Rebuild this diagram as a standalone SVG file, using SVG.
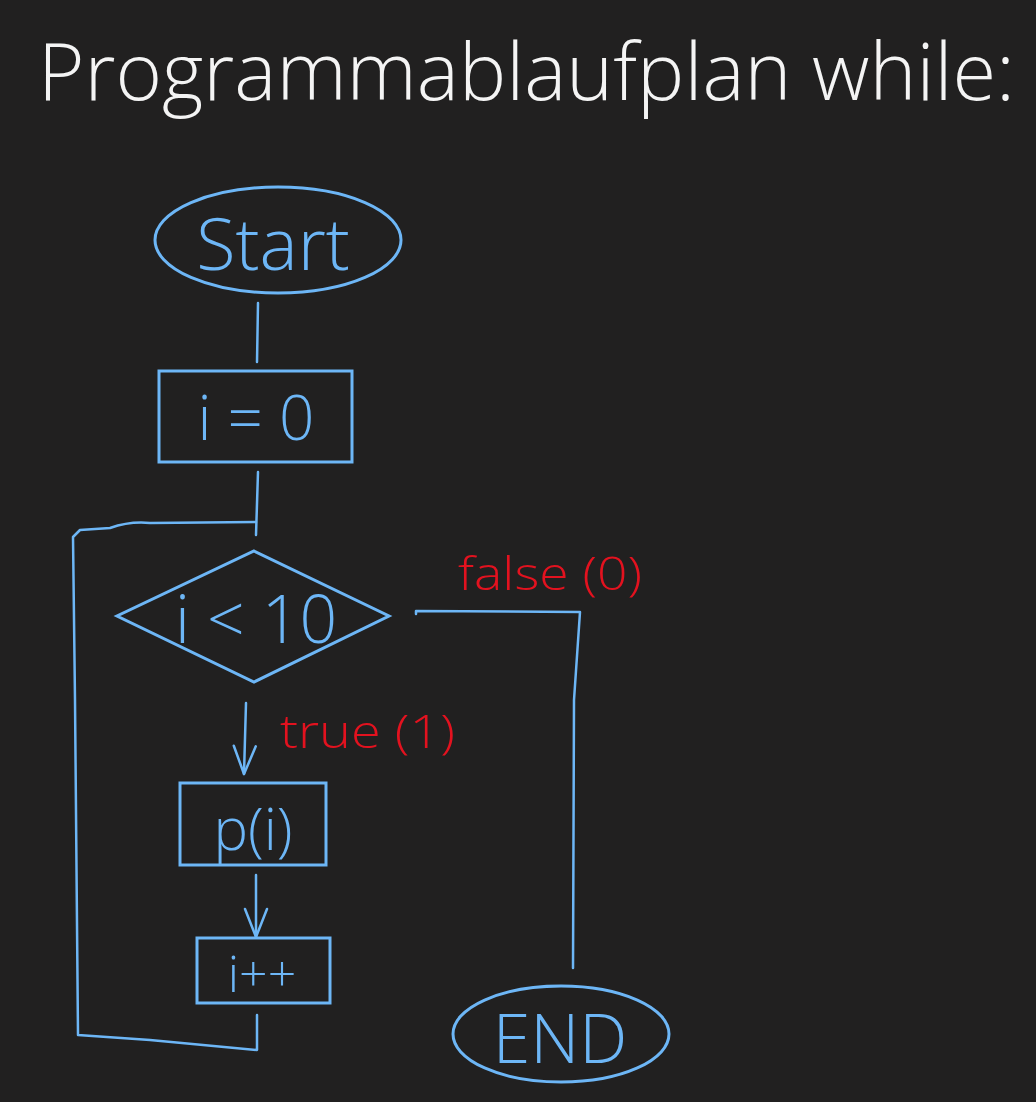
<svg xmlns="http://www.w3.org/2000/svg" width="1036" height="1102" viewBox="0 0 1036 1102">
<defs>
<style>
.bg{fill:#212020}
.shape{fill:none;stroke:#6db6f6;stroke-width:3;stroke-linejoin:miter}
.conn{fill:none;stroke:#6db6f6;stroke-width:2.5;stroke-linecap:round;stroke-linejoin:round}
.lbl{font-family:"Open Sans","Liberation Sans",sans-serif;font-weight:300;fill:#6db6f6;text-anchor:middle}
.red{font-family:"Open Sans","Liberation Sans",sans-serif;font-weight:300;fill:#e3121f}
.title{font-family:"Open Sans","Liberation Sans",sans-serif;font-weight:300;fill:#f4f4f4}
</style>
<marker id="arr" viewBox="0 0 32 28" refX="30" refY="14" markerWidth="32" markerHeight="28" markerUnits="userSpaceOnUse" orient="auto">
<path d="M2 3 L30 14 L2 25" fill="none" stroke="#6db6f6" stroke-width="2.5" stroke-linecap="round" stroke-linejoin="round"/>
</marker>
</defs>
<rect class="bg" x="0" y="0" width="1036" height="1102"/>
<text class="title" x="38" y="100" font-size="80" textLength="977" lengthAdjust="spacingAndGlyphs">Programmablaufplan while:</text>

<g id="connectors">
<path class="conn" d="M258 303 L257 362"/>
<path class="conn" d="M258 472 L256 535"/>
<path class="conn" d="M256 522 L150 523 Q130 521 110 528 L80 530 L73 537 L75 700 L78 1035 L150 1040 L257 1050 L257 1015"/>
<path class="conn" d="M416 614 L416 611 L580 612 L574 700 L573 968"/>
<path class="conn" d="M246 703 L244 774" marker-end="url(#arr)"/>
<path class="conn" d="M256 875 L256 937" marker-end="url(#arr)"/>
</g>

<g id="start">
<ellipse class="shape" cx="278" cy="240" rx="123" ry="53"/>
<text class="lbl" x="273" y="270" font-size="72">Start</text>
</g>
<g id="init">
<rect class="shape" x="159" y="371" width="193" height="91"/>
<text class="lbl" x="256" y="440" font-size="62">i = 0</text>
</g>
<g id="cond">
<polygon class="shape" points="254,551 389,616 254,682 117,616"/>
<text class="lbl" x="256" y="643" font-size="66">i &lt; 10</text>
</g>
<g id="body">
<rect class="shape" x="180" y="783" width="146" height="82"/>
<text class="lbl" x="253" y="850" font-size="58">p(i)</text>
</g>
<g id="inc">
<rect class="shape" x="197" y="938" width="133" height="65"/>
<text class="lbl" x="262" y="992" font-size="50">i++</text>
</g>
<g id="end">
<ellipse class="shape" cx="561" cy="1034" rx="108" ry="48"/>
<text class="lbl" x="560" y="1063" font-size="68">END</text>
</g>
<text class="red" x="458" y="590" font-size="46" textLength="184" lengthAdjust="spacingAndGlyphs">false (0)</text>
<text class="red" x="280" y="748" font-size="46" textLength="175" lengthAdjust="spacingAndGlyphs">true (1)</text>
</svg>
